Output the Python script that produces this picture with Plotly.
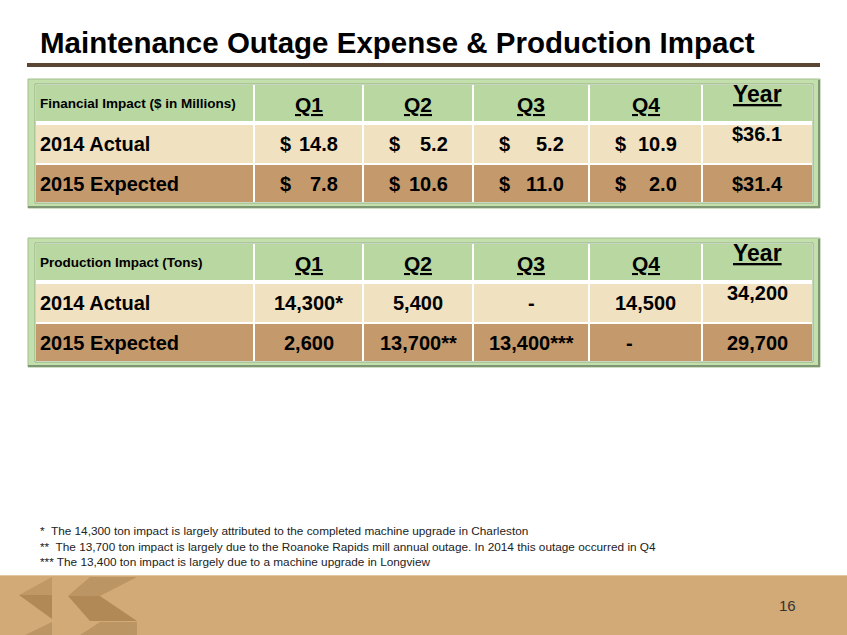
import plotly.graph_objects as go

FONT = "Liberation Sans, Arial, Helvetica, sans-serif"

# table data
quarters = ["Q1", "Q2", "Q3", "Q4", "Year"]
row_labels = ["2014 Actual", "2015 Expected"]
fin_title = "Financial Impact ($ in Millions)"
fin_2014 = [14.8, 5.2, 5.2, 10.9, 36.1]
fin_2015 = [7.8, 10.6, 11.0, 2.0, 31.4]
prod_title = "Production Impact (Tons)"
prod_2014 = [14300, 5400, None, 14500, 34200]
prod_2015 = [2600, 13700, 13400, None, 29700]
prod_marks_2014 = ["*", "", "", "", ""]
prod_marks_2015 = ["", "**", "***", "", ""]

footnotes = [
    "*  The 14,300 ton impact is largely attributed to the completed machine upgrade in Charleston",
    "**  The 13,700 ton impact is largely due to the Roanoke Rapids mill annual outage. In 2014 this outage occurred in Q4",
    "*** The 13,400 ton impact is largely due to a machine upgrade in Longview",
]
title = "Maintenance Outage Expense & Production Impact"
page_no = "16"

# layout constants
W, H = 847, 635
COL_X = [36, 254, 363, 473, 589, 702, 812]
HEADER_GREEN = "#B9D7A1"
ROW_BEIGE = "#F0E1C1"
ROW_TAN = "#C49A6D"
FRAME_GREEN = "#C3E0AC"

fig = go.Figure()


def rect(x0, y0, x1, y1, fill, line_color=None, line_width=0):
    fig.add_shape(type="rect", x0=x0, y0=y0, x1=x1, y1=y1, xref="x", yref="y",
                  fillcolor=fill, line=dict(color=line_color or fill, width=line_width),
                  layer="below")


def line(x0, y0, x1, y1, color, width):
    fig.add_shape(type="line", x0=x0, y0=y0, x1=x1, y1=y1, xref="x", yref="y",
                  line=dict(color=color, width=width), layer="below")


def text(x, y, s, size, anchor="center", bold=True, color="black"):
    fig.add_annotation(x=x, y=y, xref="x", yref="y", text=s, showarrow=False,
                       xanchor=anchor, yanchor="middle",
                       font=dict(family=FONT, size=size, color=color,
                                 weight="bold" if bold else "normal"))


def draw_table(top, head_text, rows):
    h_top, h_bot = top + 6, top + 42
    r1_top, r1_bot = top + 46, top + 84
    r2_top, r2_bot = top + 86, top + 123
    bottom = top + 129

    # bevelled green frame
    rect(28, top, 820, bottom, FRAME_GREEN, "#A3BE90", 1)
    line(819, top + 1, 819, bottom, "#7F9672", 2)
    line(28, bottom - 1, 820, bottom - 1, "#7F9672", 2)
    rect(35, h_top - 1, 813, r2_bot + 1, "white", "#93AC82", 1)

    rect(36, h_top, 812, h_bot, HEADER_GREEN)
    rect(36, r1_top, 812, r1_bot, ROW_BEIGE)
    rect(36, r2_top, 812, r2_bot, ROW_TAN)
    for x in COL_X[1:-1]:
        line(x, h_top, x, r2_bot, "white", 2)

    # header row
    h_mid = (h_top + h_bot) / 2
    text(38, h_mid, head_text, 13.5, anchor="left")
    for i, q in enumerate(quarters):
        cx = (COL_X[i + 1] + COL_X[i + 2]) / 2
        if q == "Year":
            text(cx, h_mid - 9, "<u>" + q + "</u>", 23)
        else:
            text(cx, h_mid + 1, "<u>" + q + "</u>", 21)

    # body rows
    for (y0, y1), label, cells in zip([(r1_top, r1_bot), (r2_top, r2_bot)], row_labels, rows):
        mid = (y0 + y1) / 2
        text(38, mid, label, 20, anchor="left")
        for i, cell in enumerate(cells):
            left, right = COL_X[i + 1], COL_X[i + 2]
            cy = mid - 10 if (i == 4 and y0 == r1_top) else mid
            if isinstance(cell, tuple):
                # accounting style: $ on the left, amount on the right
                text(left + 24, cy, "$", 20, anchor="left")
                text(right - 23, cy, cell[1], 20, anchor="right")
            else:
                text((left + right) / 2, cy, cell, 20)


def fin_cells(values):
    out = []
    for i, v in enumerate(values):
        if quarters[i] == "Year":
            out.append(f"${v:.1f}")
        else:
            out.append(("$", f"{v:.1f}"))
    return out


def prod_cells(values, marks):
    out = []
    for v, m in zip(values, marks):
        out.append("-" if v is None else f"{v:,}{m}")
    return out


# title and rule
text(38, 42, title, 29.5, anchor="left")
line(27, 65, 820, 65, "#5A4632", 4)

draw_table(79, fin_title, [fin_cells(fin_2014), fin_cells(fin_2015)])
p15 = prod_cells(prod_2015, prod_marks_2015)
p15[3] = "-" + "\u00a0" * 6
draw_table(238, prod_title, [prod_cells(prod_2014, prod_marks_2014), p15])

# footnotes
for k, note in enumerate(footnotes):
    text(38, 531 + k * 15.5, note, 11.8, anchor="left", bold=False, color="#222222")

# footer band with logo
rect(0, 575, W, H, "#D2AA78")
line(0, 575.5, W, 575.5, "#E2C7A0", 1)
logo = [
    ("M 19 595 L 52 577 L 52 595 Z", "#BF9866"),
    ("M 19 595 L 52 595 L 52 619 Z", "#B08957"),
    ("M 25 635 L 52 622 L 52 635 Z", "#BC9564"),
    ("M 90 577 L 137 577 L 100 596 L 68 596 Z", "#BC9564"),
    ("M 68 596 L 100 596 L 137 621 L 90 621 Z", "#B08957"),
    ("M 80 635 L 100 622 L 137 622 L 137 635 Z", "#BC9564"),
]
for path, color in logo:
    fig.add_shape(type="path", path=path, xref="x", yref="y",
                  fillcolor=color, line=dict(width=0), layer="below")

text(787, 605, page_no, 15, bold=False, color="#333333")

fig.update_xaxes(range=[0, W], visible=False, fixedrange=True)
fig.update_yaxes(range=[H, 0], visible=False, fixedrange=True)
fig.update_layout(
    width=W, height=H,
    margin=dict(l=0, r=0, t=0, b=0),
    paper_bgcolor="white",
    plot_bgcolor="white",
    showlegend=False,
)

# drop the default page margin so the slide sits at the window's corner
fig.write_html("out.html", config={"displayModeBar": False},
               post_script="document.body.style.margin='0';")
